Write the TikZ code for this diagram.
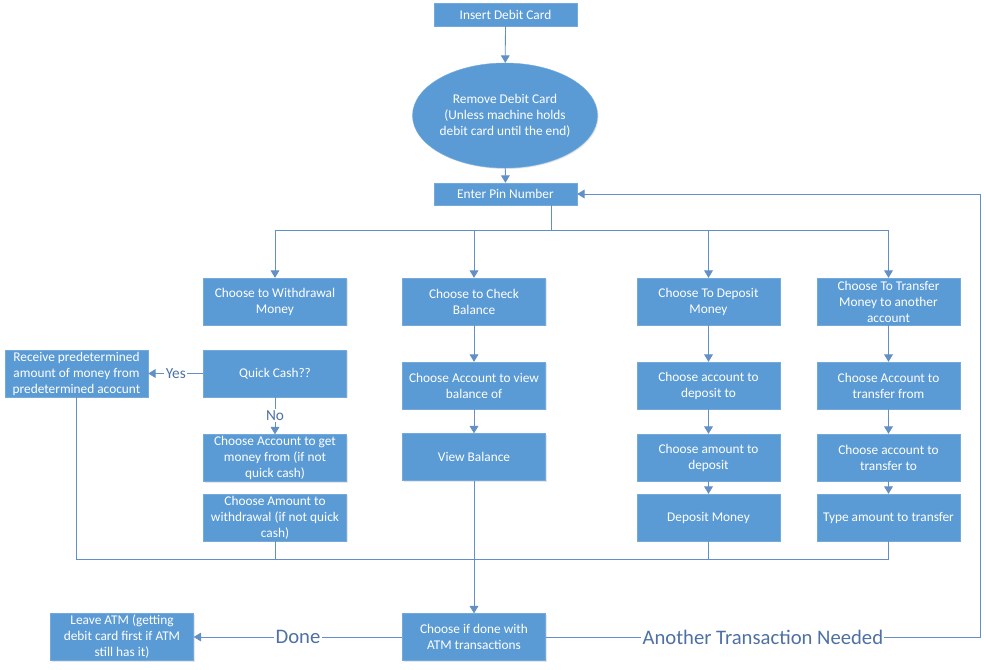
\documentclass[tikz,border=0pt]{standalone}
\usepackage{fontspec}
\setmainfont{Carlito}
\usepackage{tikz}
\usetikzlibrary{arrows.meta,shapes.geometric,shadows}
\definecolor{boxblue}{RGB}{91,155,213}
\definecolor{wireblue}{RGB}{98,143,198}
\definecolor{lblblue}{RGB}{78,113,165}
\tikzset{>/.tip={Triangle[length=5.5pt,width=6.5pt]},
  box/.style={rectangle, fill=boxblue, draw=boxblue!85!white, line width=0.3pt, text=white,
    align=center, inner sep=1pt, minimum width=107.25pt, minimum height=35.25pt,
    font=\fontsize{10}{12}\selectfont,
    drop shadow={shadow xshift=0.8pt, shadow yshift=-0.8pt, opacity=0.2}},
  oval/.style={box, ellipse, inner sep=0pt, minimum width=132.75pt, minimum height=78.75pt},
  wire/.style={draw=wireblue, line width=0.6pt},
  lbl/.style={fill=white, text=lblblue, inner sep=1pt, font=\fontsize{11.5}{13}\selectfont},
  biglbl/.style={lbl, font=\fontsize{15.5}{18}\selectfont}}

\begin{document}
\begin{tikzpicture}[x=0.75pt, y=-0.75pt]
\useasboundingbox (0,0) rectangle (986,669);
\node[box, minimum height=17.25pt] (ins) at (505.5,14.5) {Insert Debit Card};
\node[oval] (rem) at (505,115.5) {Remove Debit Card\\(Unless machine holds\\debit card until the end)};
\node[box, minimum height=16.5pt] (pin) at (505.5,194) {Enter Pin Number};
\node[box] (wd) at (275,301.5) {Choose to Withdrawal\\Money};
\node[box] (qc) at (275,373.5) {Quick Cash??};
\node[box] (wacc) at (275,458) {Choose Account to get\\money from (if not\\quick cash)};
\node[box] (wamt) at (275,517.5) {Choose Amount to\\withdrawal (if not quick\\cash)};
\node[box] (rcv) at (76.5,373.5) {Receive predetermined\\amount of money from\\predetermined acocunt};
\node[box] (chk) at (474,301.5) {Choose to Check\\Balance};
\node[box] (cacc) at (474,385.5) {Choose Account to view\\balance of};
\node[box] (cbal) at (474,457) {View Balance};
\node[box] (dep) at (708.5,301.5) {Choose To Deposit\\Money};
\node[box] (dacc) at (708.5,385.5) {Choose account to\\deposit to};
\node[box] (damt) at (708.5,457.5) {Choose amount to\\deposit};
\node[box] (dmon) at (708.5,517.5) {Deposit Money};
\node[box] (trf) at (888.5,301.5) {Choose To Transfer\\Money to another\\account};
\node[box] (tfrom) at (888.5,385.5) {Choose Account to\\transfer from};
\node[box] (tto) at (888.5,457.5) {Choose account to\\transfer to};
\node[box] (tamt) at (888.5,517.5) {Type amount to transfer};
\node[box] (done) at (474,637) {Choose if done with\\ATM transactions};
\node[box] (leave) at (122,637) {Leave ATM (getting\\debit card first if ATM\\still has it)};
\coordinate (fork) at (551,230);
\coordinate (merge) at (474,559);
\coordinate (back) at (980,637);
\draw[wire,->] (ins) -- (rem);
\draw[wire,->] (rem) -- (pin);
\draw[wire] (pin.south -| fork) -- (fork);
\foreach \c in {wd,chk,dep,trf}
{
  \draw[wire,->] (fork) -| (\c);
}
\draw[wire,->] (qc) -- node[lbl]{Yes} (rcv);
\draw[wire,->] (qc) -- node[lbl]{No} (wacc);
\foreach \i/\j in {chk/cacc,cacc/cbal,cbal/done,dep/dacc,dacc/damt,damt/dmon,trf/tfrom,tfrom/tto,tto/tamt}
{
  \draw[wire,->] (\i) -- (\j);
}
\foreach \c in {rcv,wamt,dmon,tamt}
{
  \draw[wire] (\c) |- (merge);
}
\draw[wire,->] (done) -- node[biglbl]{Done} (leave);
\draw[wire,->] (done) -- node[biglbl]{Another Transaction Needed} (back) |- (pin);
\end{tikzpicture}
\end{document}
